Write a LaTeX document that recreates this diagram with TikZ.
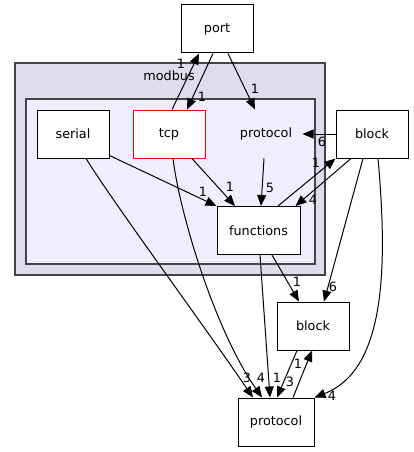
\documentclass[tikz,border=0pt]{standalone}
\usepackage{xcolor}
\usepackage{fontspec}
\setmainfont{DejaVu Sans}
\usetikzlibrary{shapes,arrows.meta,positioning,calc}

\definecolor{outerfill}{HTML}{DDDDEE}
\definecolor{innerfill}{HTML}{EEEEFF}
\definecolor{clusterline}{HTML}{444444}

\tikzset{
    dirbox/.style={draw=black, fill=white, line width=1pt, minimum width=72, minimum height=48, inner sep=0pt},
    dirlbl/.style={inner sep=0pt},
    dep/.style={line width=1pt, -{Triangle[length=11pt,width=9pt]}},
    cluster/.style={draw=clusterline, line width=1.5pt}
}

\begin{document}
\begin{tikzpicture}[x=1pt, y=-1pt, font=\fontsize{12.8}{15}\selectfont]
        \useasboundingbox (0,0) rectangle (413,452);
        % clusters
        \draw[cluster, fill=outerfill] (15,63) rectangle (325,275);
        \node[dirlbl] (modbuslbl) at (169,76) {modbus};
        \draw[cluster, fill=innerfill] (26,99) rectangle (315,264);
        % directories
        \node[dirbox] (port) at (217,29) {port};
        \node[dirbox] (serial) at (73,134) {serial};
        \node[dirbox, draw=red] (tcp) at (169,134) {tcp};
        \node[dirbox, draw=none, fill=none] (protoin) at (266,134) {protocol};
        \node[dirbox, minimum width=83] (functions) at (258.5,230.5) {functions};
        \node[dirbox] (blockext) at (372,134) {block};
        \node[dirbox] (blocklow) at (313,326) {block};
        \node[dirbox, minimum width=76] (protolow) at (276,422) {protocol};
        % dependencies
        \draw[dep] ($(tcp.north)+(3,0)$) -- ($(port.south)+(-18,0)$);
        \draw[dep] ($(port.south)+(-4,0)$) -- ($(tcp.north)+(18,0)$);
        \draw[dep] ($(port.south)+(11,0)$) -- ($(protoin.north)+(-11,0)$);
        \draw[dep] (blockext.west) -- (protoin.east);
        \draw[dep] ($(protoin.south)+(-2,0)$) -- ($(functions.north)+(2.5,0)$);
        \draw[dep] ($(functions.north)+(19.5,0)$) -- (blockext.south west);
        \draw[dep] ($(blockext.south)+(-21,0)$) -- ($(functions.north east)+(-5,0)$);
        \draw[dep] ($(serial.south east)+(0,-3)$) -- (functions.north west);
        \draw[dep] ($(tcp.south)+(23,0)$) -- ($(functions.north)+(-23.5,0)$);
        \draw[dep] ($(serial.south)+(13,0)$) .. controls (115,205) and (200,320) .. ($(protolow.north)+(-23,0)$);
        \draw[dep] ($(tcp.south)+(4,0)$) .. controls (180,215) and (215,330) .. ($(protolow.north)+(-14,0)$);
        \draw[dep] ($(functions.south)+(1.5,0)$) -- ($(protolow.north)+(-6,0)$);
        \draw[dep] ($(functions.south)+(13.5,0)$) -- ($(blocklow.north)+(-14,0)$);
        \draw[dep] ($(blockext.south)+(-9,0)$) -- ($(blocklow.north)+(11,0)$);
        \draw[dep] ($(blocklow.south)+(-16,0)$) -- ($(protolow.north)+(1,0)$);
        \draw[dep] ($(protolow.north)+(17,0)$) -- ($(blocklow.south)+(-1,0)$);
        \draw[dep] ($(blockext.south)+(6,0)$) .. controls (388,270) and (385,370) .. (protolow.north east);
        % dependency counts
        \node[dirlbl] (n1) at (181,64) {1};
        \node[dirlbl] (n2) at (202,97) {1};
        \node[dirlbl] (n3) at (255,89) {1};
        \node[dirlbl] (n4) at (322,142) {6};
        \node[dirlbl] (n5) at (270,188) {5};
        \node[dirlbl] (n6) at (316,163) {1};
        \node[dirlbl] (n7) at (313,200) {4};
        \node[dirlbl] (n8) at (203,192) {1};
        \node[dirlbl] (n9) at (230,187) {1};
        \node[dirlbl] (n10) at (297,282) {1};
        \node[dirlbl] (n11) at (333,287) {6};
        \node[dirlbl] (n12) at (247,378) {3};
        \node[dirlbl] (n13) at (261,378) {4};
        \node[dirlbl] (n14) at (277,378) {1};
        \node[dirlbl] (n15) at (290,382) {3};
        \node[dirlbl] (n16) at (298,364) {1};
        \node[dirlbl] (n17) at (332,396) {4};
    \end{tikzpicture}
\end{document}
